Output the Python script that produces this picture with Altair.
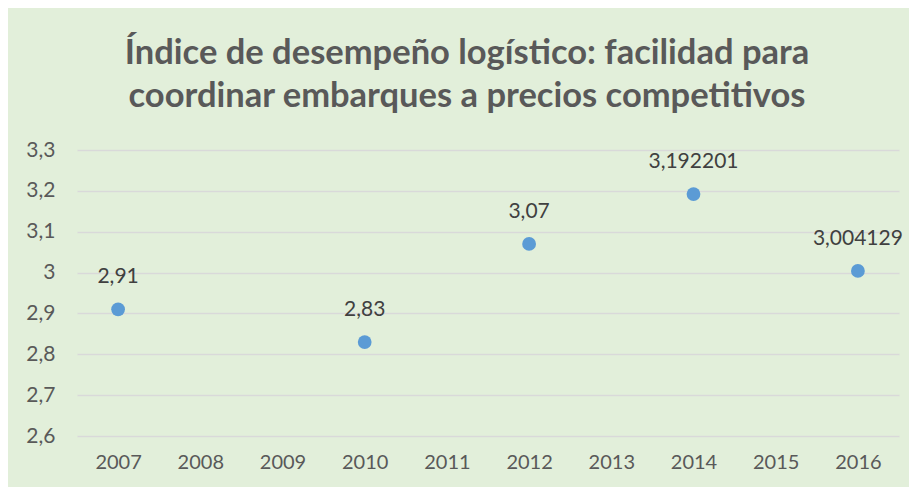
import altair as alt
import pandas as pd

years_all = ["2007", "2008", "2009", "2010", "2011", "2012", "2013", "2014", "2015", "2016"]
years = ["2007", "2010", "2012", "2014", "2016"]
values = [2.91, 2.83, 3.07, 3.192201, 3.004129]
y_ticks = [2.6, 2.7, 2.8, 2.9, 3.0, 3.1, 3.2, 3.3]

df = pd.DataFrame({"year": years, "value": values})

FONT = "Lato"
base = alt.Chart(df).encode(
    x=alt.X("year:O", scale=alt.Scale(domain=years_all, paddingInner=0, paddingOuter=0),
            axis=alt.Axis(title=None, labelAngle=0, domain=False, ticks=False, grid=False,
                          labelPadding=16, labelFontSize=20, labelColor="#595959", labelFont=FONT)),
    y=alt.Y("value:Q", scale=alt.Scale(domain=[2.6, 3.3], nice=False, zero=False),
            axis=alt.Axis(title=None, values=y_ticks, domain=False, ticks=False,
                          labelExpr="replace(format(datum.value, '.1~f'), '.', ',')",
                          labelPadding=22, labelFontSize=21, labelColor="#595959", labelFont=FONT,
                          gridColor="#D9D9D9", gridWidth=1.5)),
)

points = base.mark_circle(size=190, opacity=1, color="#5B9BD5")
labels = base.transform_calculate(
    lab="replace(toString(datum.value), '.', ',')"
).mark_text(dy=-32, fontSize=21, font=FONT, color="#404040").encode(text="lab:N")

chart = (points + labels).properties(
    width=822, height=286,
    autosize=alt.AutoSizeParams(type="none"),
    padding={"left": 69, "top": 142, "right": 10, "bottom": 51},
    background="#E2EFDA",
    title=alt.TitleParams(
        text=["Índice de desempeño logístico: facilidad para",
              "coordinar embarques a precios competitivos"],
        font=FONT, fontSize=34.5, fontWeight="bold", color="#595959",
        anchor="middle", dx=-21, offset=25, lineHeight=43,
    ),
).configure_view(stroke=None)

chart.save("out.html", embed_options={"renderer": "svg", "actions": False})
